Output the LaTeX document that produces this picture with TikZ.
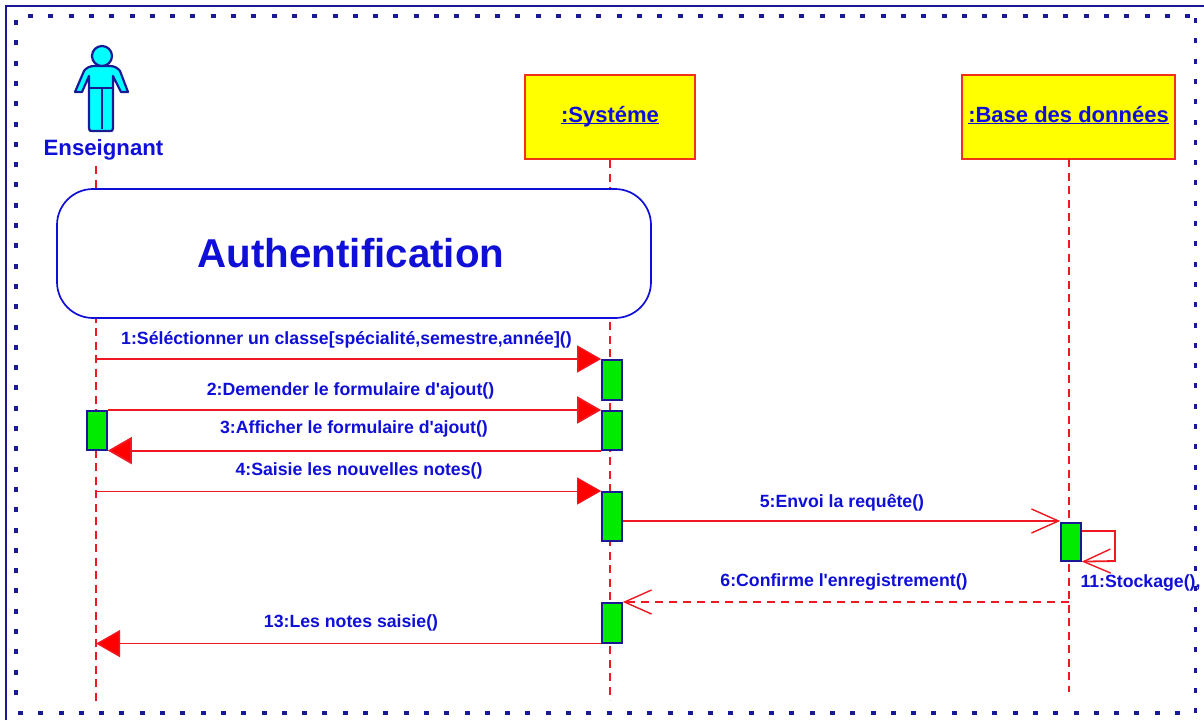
\documentclass[tikz,border=0pt]{standalone}
\usepackage{fontspec}
\setmainfont{Liberation Sans}
\usetikzlibrary{arrows.meta}
\definecolor{lblue}{RGB}{15,15,215}
\definecolor{frameb}{RGB}{25,25,150}
\definecolor{lred}{RGB}{240,25,35}
\definecolor{boxred}{RGB}{240,50,25}
\definecolor{yel}{RGB}{255,255,0}
\definecolor{grn}{RGB}{0,235,0}
\definecolor{cyn}{RGB}{0,255,255}
\newcommand{\objtext}[1]{\raisebox{-12pt}{\underline{\smash{#1}}}}
\tikzset{
  x=1pt,y=-1pt,
  lab/.style={font=\bfseries\fontsize{17.7}{20}\selectfont,text=lblue,inner sep=0pt},
  objbox/.style={draw=boxred,line width=2pt,fill=yel,inner sep=0pt,font=\bfseries\fontsize{22}{24}\selectfont,text=lblue},
  bar/.style={draw=frameb,line width=1.6pt,fill=grn,inner sep=0pt,minimum width=20pt,anchor=north},
  life/.style={draw=lred,line width=1.7pt,dash pattern=on 8pt off 5.5pt},
  msg/.style={draw=lred,line width=1.8pt},
  full/.style={-{Triangle[length=24pt,width=27pt,fill=red]}},
  open/.style={-{Straight Barb[length=27pt,width=24pt,line width=1.4pt]}},
  dots/.style={draw=frameb,line width=3.5pt,dash pattern=on 5pt off 15.3pt}
}
\begin{document}
\begin{tikzpicture}
\useasboundingbox (0,0) rectangle (1204,720);
\fill[white] (0,0) rectangle (1204,720);
\coordinate (fa) at (6,720); \coordinate (fb) at (6,6); \coordinate (fc) at (1204,6);
\draw[frameb,line width=2pt] (fa) -- (fb) -- (fc);
\coordinate (db) at (16,20); \coordinate (da) at (16,706);
\coordinate (dc) at (28,16); \coordinate (dd) at (1195,16);
\coordinate (de) at (1195.5,18); \coordinate (df) at (1195.5,715);
\coordinate (dg) at (1180,713); \coordinate (dh) at (18,713);
\draw[dots] (db) -- (da);
\draw[dots] (dc) -- (dd);
\draw[dots] (de) -- (df);
\draw[dots] (dg) -- (dh);

% actor
\begin{scope}[draw=frameb,line width=2.2pt,fill=cyn,line join=round]
\filldraw (75,92) -- (84,71) .. controls (86,68) and (90,66) .. (94,66) -- (110,66)
  .. controls (114,66) and (118,68) .. (120,71) -- (128,92) -- (121,92) -- (113,76) -- (113,128)
  .. controls (113,131) and (112,131) .. (110,131) -- (92,131)
  .. controls (90,131) and (89,131) .. (89,128) -- (89,76) -- (82,92) -- cycle;
\filldraw (102,56) circle (10);
\draw[line width=1.2pt] (89,88) -- (113,88) (102,88) -- (102,129);
\end{scope}
\node[font=\bfseries\fontsize{22.2}{24}\selectfont,text=lblue,inner sep=0pt] (ens) at (103.5,150) {Enseignant};

% objects
\node[objbox,minimum width=170pt,minimum height=84pt] (sys) at (610,117) {\objtext{:Systéme}};
\node[objbox,minimum width=213pt,minimum height=84pt] (bdd) at (1068.5,117) {\objtext{:Base des données}};

% lifelines
\coordinate (aend) at (96,705);
\coordinate (send) at (610,700);
\coordinate (bend) at (1069,692);
\coordinate (astart) at (96,166);
\coordinate (bstart) at (1069,159);
\draw[life] (astart) -- (aend);
\draw[life] (sys.south) -- (send);
\draw[life] (bstart) -- (bend);

% authentification
\node[draw=lblue,line width=1.7pt,fill=white,rounded corners=36pt,minimum width=594pt,minimum height=129pt,inner sep=0pt] (auth) at (354,253.5) {};
\node[font=\bfseries\fontsize{40.3}{44}\selectfont,text=lblue,inner sep=0pt] (authl) at (351,253) {Authentification};

% activation bars
\node[bar,minimum height=40pt] (s1) at (612,359) {};
\node[bar,minimum height=39pt] (s2) at (612,410) {};
\node[bar,minimum height=49pt] (s3) at (612,491) {};
\node[bar,minimum height=40pt] (s4) at (612,602) {};
\node[bar,minimum height=39pt] (a1) at (97,410) {};
\node[bar,minimum height=38pt] (b1) at (1071,522) {};

% free ends on lifelines
\coordinate (m1) at (aend |- s1.north);
\coordinate (m4) at (aend |- s3.north);
\coordinate (m13) at (aend |- s4.south);
\coordinate (m6) at (bend |- s4.north);
\coordinate (m5a) at (s3.east |- 0,521);
\coordinate (m5b) at (b1.west |- 0,521);
\coordinate (loopa) at (b1.east |- 0,531);
\coordinate (loopb) at (1115,531);
\coordinate (loopc) at (1115,561);

% messages
\draw[msg,line width=1.3pt,full] (m1) -- (s1.north west);
\draw[msg,full] (a1.north east) -- (s2.north west);
\draw[msg,full] (s2.south west) -- (a1.south east);
\draw[msg,line width=1pt,full] (m4) -- (s3.north west);
\draw[msg,open] (m5a) -- (m5b);
\draw[msg,line width=1.4pt,open,dash pattern=on 8pt off 6pt] (m6) -- (s4.north east);
\draw[msg,line width=1.3pt,full] (s4.south west) -- (m13);
\draw[msg,open] (loopa) -- (loopb) -- (loopc) -- (b1.south east);

% labels
\node[lab] (l1) at (346.5,340) {1:Séléctionner un classe[spécialité,semestre,année]()};
\node[lab] (l2) at (350.5,391) {2:Demender le formulaire d\textquotesingle ajout()};
\node[lab] (l3) at (354,429) {3:Afficher le formulaire d\textquotesingle ajout()};
\node[lab] (l4) at (359,471) {4:Saisie les nouvelles notes()};
\node[lab] (l5) at (842,503) {5:Envoi la requête()};
\node[lab] (l6) at (844,582) {6:Confirme l\textquotesingle enregistrement()};
\node[lab] (l11) at (1140.5,583) {11:Stockage(),};
\node[lab] (l13) at (351,623) {13:Les notes saisie()};
\end{tikzpicture}
\end{document}
